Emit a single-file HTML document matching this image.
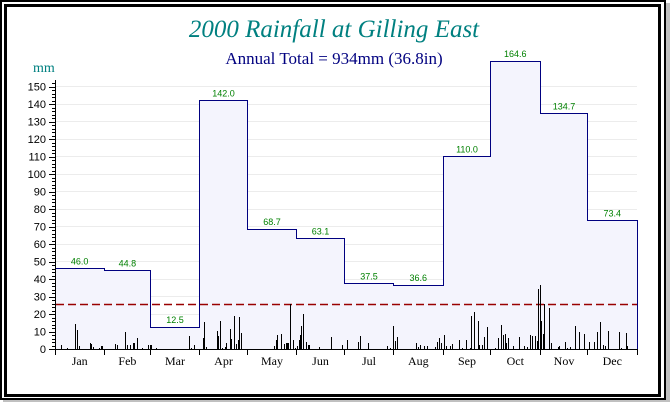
<!DOCTYPE html>
<html><head><meta charset="utf-8"><style>
html,body{margin:0;padding:0;background:#fff;}
svg{display:block;}
</style></head><body>
<svg width="670" height="402" viewBox="0 0 670 402" xmlns="http://www.w3.org/2000/svg">
<rect x="0" y="0" width="670" height="402" fill="#fff"/>
<!-- shadow -->
<rect x="666" y="3" width="4" height="399" fill="#c0c0c0"/>
<rect x="3" y="400" width="667" height="2" fill="#c0c0c0"/>
<!-- frames -->
<rect x="1" y="1" width="664" height="398" fill="none" stroke="#000" stroke-width="2"/>
<rect x="5.5" y="5.5" width="654" height="390" fill="none" stroke="#000" stroke-width="3"/>

<!-- titles -->
<text x="334" y="37" text-anchor="middle" font-family="'Liberation Serif',serif" font-style="italic" font-size="25" fill="#008080">2000 Rainfall at Gilling East</text>
<text x="334" y="64" text-anchor="middle" font-family="'Liberation Serif',serif" font-size="17" fill="#000080">Annual Total = 934mm (36.8in)</text>
<text x="33" y="72" font-family="'Liberation Serif',serif" font-size="14" fill="#008080">mm</text>

<!-- gridlines -->
<g stroke="#ececec" stroke-width="1">
<line x1="56" x2="637" y1="331.5" y2="331.5"/>
<line x1="56" x2="637" y1="314.5" y2="314.5"/>
<line x1="56" x2="637" y1="296.5" y2="296.5"/>
<line x1="56" x2="637" y1="279.5" y2="279.5"/>
<line x1="56" x2="637" y1="261.5" y2="261.5"/>
<line x1="56" x2="637" y1="244.5" y2="244.5"/>
<line x1="56" x2="637" y1="226.5" y2="226.5"/>
<line x1="56" x2="637" y1="209.5" y2="209.5"/>
<line x1="56" x2="637" y1="191.5" y2="191.5"/>
<line x1="56" x2="637" y1="174.5" y2="174.5"/>
<line x1="56" x2="637" y1="156.5" y2="156.5"/>
<line x1="56" x2="637" y1="139.5" y2="139.5"/>
<line x1="56" x2="637" y1="121.5" y2="121.5"/>
<line x1="56" x2="637" y1="104.5" y2="104.5"/>
<line x1="56" x2="637" y1="86.5" y2="86.5"/>
</g>

<!-- monthly step area -->
<path d="M55.5,349.5 V268.5 H104.5 V270.5 H150.5 V327.5 H199.5 V100.5 H247.5 V229.5 H296.5 V238.5 H344.5 V283.5 H393.5 V285.5 H443.5 V156.5 H490.5 V61.5 H540.5 V113.5 H587.5 V220.5 H637.5 V349.5 Z" fill="#f4f4fd" stroke="#000080" stroke-width="1"/>

<!-- value labels -->
<g font-family="'Liberation Sans',sans-serif" font-size="9" fill="#008000" text-anchor="middle">
<text x="79.7" y="264.5">46.0</text>
<text x="127.4" y="266.5">44.8</text>
<text x="175" y="323">12.5</text>
<text x="223.5" y="96.5">142.0</text>
<text x="272" y="225">68.7</text>
<text x="320.5" y="234.5">63.1</text>
<text x="369" y="279.5">37.5</text>
<text x="418.3" y="281">36.6</text>
<text x="467" y="152.5">110.0</text>
<text x="515.3" y="57">164.6</text>
<text x="564" y="109.5">134.7</text>
<text x="612.3" y="216.5">73.4</text>
</g>

<!-- red dashed 1 inch line -->
<line x1="56" x2="637" y1="304.5" y2="304.5" stroke="#990000" stroke-width="1.5" stroke-dasharray="8,4"/>

<!-- daily bars -->
<g stroke="#000" stroke-width="1" id="bars"></g>

<!-- axes -->
<line x1="55.5" x2="55.5" y1="80" y2="350" stroke="#000" stroke-width="1"/>
<line x1="49" x2="638" y1="349.5" y2="349.5" stroke="#000" stroke-width="1"/>
<g stroke="#000" stroke-width="1" id="yticks"></g>
<g stroke="#000" stroke-width="1">
<line x1="55.5" x2="55.5" y1="349" y2="355"/>
<line x1="104.5" x2="104.5" y1="349" y2="355"/>
<line x1="150.5" x2="150.5" y1="349" y2="355"/>
<line x1="199.5" x2="199.5" y1="349" y2="355"/>
<line x1="247.5" x2="247.5" y1="349" y2="355"/>
<line x1="296.5" x2="296.5" y1="349" y2="355"/>
<line x1="344.5" x2="344.5" y1="349" y2="355"/>
<line x1="393.5" x2="393.5" y1="349" y2="355"/>
<line x1="443.5" x2="443.5" y1="349" y2="355"/>
<line x1="490.5" x2="490.5" y1="349" y2="355"/>
<line x1="540.5" x2="540.5" y1="349" y2="355"/>
<line x1="587.5" x2="587.5" y1="349" y2="355"/>
<line x1="637.5" x2="637.5" y1="349" y2="355"/>
</g>

<!-- y labels -->
<g font-family="'Liberation Sans',sans-serif" font-size="11" fill="#000" text-anchor="end">
<text x="46" y="353">0</text>
<text x="46" y="335.5">10</text>
<text x="46" y="318">20</text>
<text x="46" y="300.5">30</text>
<text x="46" y="283">40</text>
<text x="46" y="265.5">50</text>
<text x="46" y="248">60</text>
<text x="46" y="230.5">70</text>
<text x="46" y="213">80</text>
<text x="46" y="195.5">90</text>
<text x="46" y="178">100</text>
<text x="46" y="160.5">110</text>
<text x="46" y="143">120</text>
<text x="46" y="125.5">130</text>
<text x="46" y="108">140</text>
<text x="46" y="90.5">150</text>
</g>

<!-- month labels -->
<g font-family="'Liberation Serif',serif" font-size="12" fill="#000" text-anchor="middle">
<text x="79.7" y="365">Jan</text>
<text x="127.4" y="365">Feb</text>
<text x="175" y="365">Mar</text>
<text x="223.5" y="365">Apr</text>
<text x="272" y="365">May</text>
<text x="320.5" y="365">Jun</text>
<text x="369" y="365">Jul</text>
<text x="418.3" y="365">Aug</text>
<text x="467" y="365">Sep</text>
<text x="515.3" y="365">Oct</text>
<text x="564" y="365">Nov</text>
<text x="612.3" y="365">Dec</text>
</g>
</svg>
<script>
(function(){
var ns="http://www.w3.org/2000/svg";
var d=[61,345,67,348,75,324,77,330,79,346,90,343,91,344,93,347,99,348,101,346,102,346,115,344,117,345,125,332,127,345,130,345,133,343,134,343,137,338,142,348,148,345,150,345,151,345,156,348,189,336,191,348,194,345,203,338,204,322,206,347,217,331,218,336,220,321,222,348,225,347,226,343,230,329,231,339,234,316,236,344,238,340,239,317,241,333,
274,346,276,340,277,335,281,334,284,344,286,343,287,343,288,343,290,304,293,340,295,348,297,346,299,340,300,335,301,326,303,314,306,342,308,345,309,345,319,347,331,337,342,345,347,340,358,342,360,336,368,343,387,346,390,348,393,326,395,341,397,337,416,343,418,347,420,345,424,346,427,346,435,347,437,342,439,338,441,343,444,335,446,346,450,346,452,344,
459,340,462,348,466,340,470,348,471,316,474,312,478,321,479,345,482,345,484,337,487,327,495,348,498,338,501,325,503,335,505,334,506,343,508,338,513,346,519,337,524,346,527,347,530,335,532,336,535,336,537,341,538,289,540,285,541,321,543,334,544,304,549,308,551,343,558,347,559,346,565,342,567,348,570,347,575,326,579,332,584,334,589,342,594,342,597,332,600,322,603,345,605,346,608,331,619,332,621,348,626,333,627,346];
var g=document.getElementById("bars");
for(var i=0;i<d.length;i+=2){var l=document.createElementNS(ns,"line");var x=d[i]+0.5;l.setAttribute("x1",x);l.setAttribute("x2",x);l.setAttribute("y1",d[i+1]);l.setAttribute("y2",349);g.appendChild(l);}
var t=document.getElementById("yticks");
for(var v=0;v<=152;v+=2){var y=Math.round(349-1.747*v)+0.5;var l2=document.createElementNS(ns,"line");l2.setAttribute("x1",v%10==0?49:52);l2.setAttribute("x2",55);l2.setAttribute("y1",y);l2.setAttribute("y2",y);t.appendChild(l2);}
})();
</script>
</body></html>
